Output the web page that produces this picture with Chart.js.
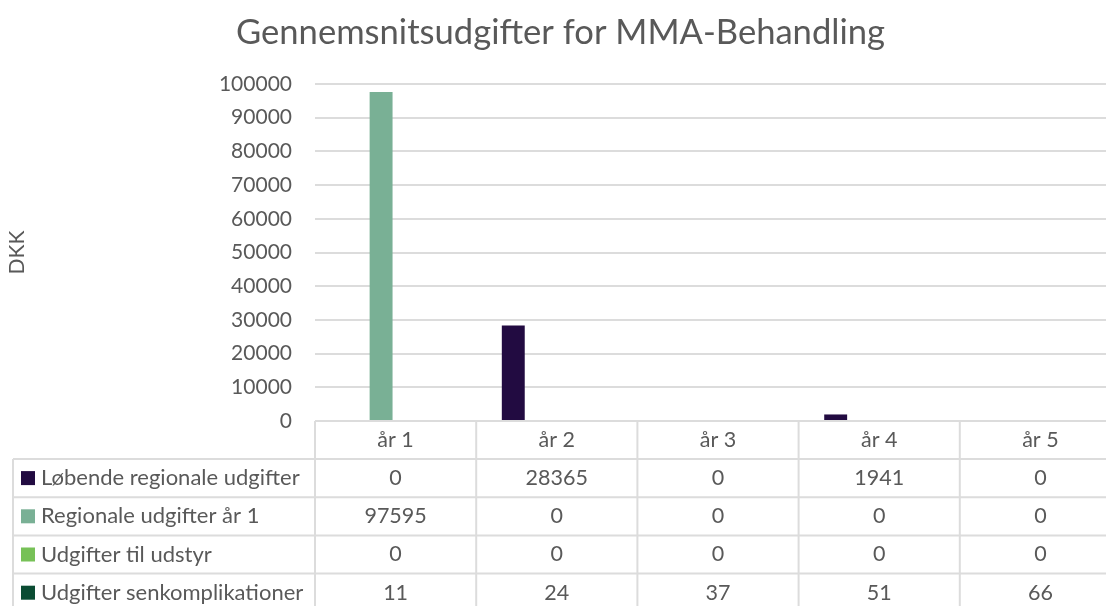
<!DOCTYPE html>
<html>
<head>
<meta charset="utf-8">
<title>Gennemsnitsudgifter for MMA-Behandling</title>
<script src="https://cdn.jsdelivr.net/npm/chart.js@4.4.1/dist/chart.umd.min.js"></script>
<style>
  html, body { margin: 0; padding: 0; background: #ffffff; overflow: hidden; }
  #wrap { width: 1106px; height: 606px; overflow: hidden; position: relative; }
  canvas { display: block; }
</style>
</head>
<body>
<div id="wrap"><canvas id="chart" width="1125" height="630"></canvas></div>
<script>
// Categories (years) and cost series, in DKK
const years = ['år 1', 'år 2', 'år 3', 'år 4', 'år 5'];
const loebendeRegionale = [0, 28365, 0, 1941, 0];
const regionaleAar1 = [97595, 0, 0, 0, 0];
const udstyr = [0, 0, 0, 0, 0];
const senkomplikationer = [11, 24, 37, 51, 66];

const seriesNames = [
  'Løbende regionale udgifter',
  'Regionale udgifter år 1',
  'Udgifter til udstyr',
  'Udgifter senkomplikationer'
];
const seriesColors = ['#220b41', '#79b095', '#77c157', '#0b4c33'];
const seriesValues = [loebendeRegionale, regionaleAar1, udstyr, senkomplikationer];

const yTicks = { min: 0, max: 100000, step: 10000 };

const FONT = 'Lato, "Open Sans", sans-serif';
const TEXT = '#595959';
const LINE = '#dcdcdc';

// Data table drawn below the plot area, aligned with the category scale
const dataTablePlugin = {
  id: 'dataTable',
  afterDraw(chart) {
    const ctx = chart.ctx;
    const x = chart.scales.x;
    const area = chart.chartArea;
    const n = years.length;
    const colW = (x.right - x.left) / n;
    const tableLeft = 13;
    const headerTop = area.bottom;
    const headerH = 38;
    const rowH = 38.2;
    const rowsTop = headerTop + headerH;
    const bottom = rowsTop + rowH * seriesNames.length;

    ctx.save();
    ctx.strokeStyle = LINE;
    ctx.lineWidth = 2;
    ctx.beginPath();
    // header top line (category area only), doubles as the value axis baseline
    ctx.moveTo(x.left, headerTop); ctx.lineTo(x.right, headerTop);
    // row lines
    for (let r = 0; r <= seriesNames.length; r++) {
      const yy = rowsTop + r * rowH;
      ctx.moveTo(tableLeft, yy); ctx.lineTo(x.right, yy);
    }
    // vertical lines
    ctx.moveTo(tableLeft, rowsTop); ctx.lineTo(tableLeft, bottom);
    for (let i = 0; i <= n; i++) {
      const xx = x.left + i * colW;
      ctx.moveTo(xx, headerTop); ctx.lineTo(xx, bottom);
    }
    ctx.stroke();

    ctx.fillStyle = TEXT;
    ctx.font = '21.5px ' + FONT;
    ctx.textBaseline = 'middle';
    ctx.textAlign = 'center';
    years.forEach((lab, i) => {
      ctx.fillText(lab, x.getPixelForValue(i), headerTop + 1 + (headerH - 1) / 2);
    });

    seriesNames.forEach((name, r) => {
      const cy = rowsTop + r * rowH + rowH / 2;
      ctx.fillStyle = seriesColors[r];
      ctx.fillRect(21, cy - 7, 14, 14);
      ctx.fillStyle = TEXT;
      ctx.textAlign = 'left';
      ctx.font = '22px ' + FONT;
      ctx.fillText(name, 41, cy);
      ctx.textAlign = 'center';
      ctx.font = '21.5px ' + FONT;
      seriesValues[r].forEach((v, i) => {
        ctx.fillText(String(v), x.getPixelForValue(i), cy);
      });
    });
    ctx.restore();
  }
};

function build() {
  new Chart(document.getElementById('chart'), {
    type: 'bar',
    data: {
      labels: years,
      datasets: seriesNames.map((name, i) => ({
        label: name,
        data: seriesValues[i],
        backgroundColor: seriesColors[i],
        borderWidth: 0,
        categoryPercentage: 0.72,
        barPercentage: 0.79
      }))
    },
    options: {
      responsive: false,
      animation: false,
      layout: { padding: { left: 0, right: 4, top: 0, bottom: 209 } },
      plugins: {
        legend: { display: false },
        tooltip: { enabled: false },
        title: {
          display: true,
          text: 'Gennemsnitsudgifter for MMA-Behandling',
          color: TEXT,
          font: { family: FONT, size: 34.6, weight: 'normal' },
          padding: { top: 12, bottom: 30.5 }
        }
      },
      scales: {
        x: {
          ticks: { display: false },
          grid: { display: false },
          border: { display: false },
          afterFit(s) { s.height = 0; }
        },
        y: {
          min: yTicks.min,
          max: yTicks.max,
          ticks: {
            stepSize: yTicks.step,
            padding: 23,
            color: TEXT,
            font: { family: FONT, size: 21 },
            callback: (v) => String(v)
          },
          grid: { color: LINE, lineWidth: 2, drawTicks: false },
          border: { display: false },
          title: {
            display: true,
            text: 'DKK',
            color: TEXT,
            font: { family: FONT, size: 21 },
            padding: { top: 5, bottom: 0 }
          },
          afterFit(s) { s.width = 315; }
        }
      }
    },
    plugins: [dataTablePlugin]
  });
}

if (document.fonts && document.fonts.load) {
  Promise.all([document.fonts.load('21px Lato'), document.fonts.load('34px Lato')])
    .then(build, build);
} else {
  build();
}
</script>
</body>
</html>
